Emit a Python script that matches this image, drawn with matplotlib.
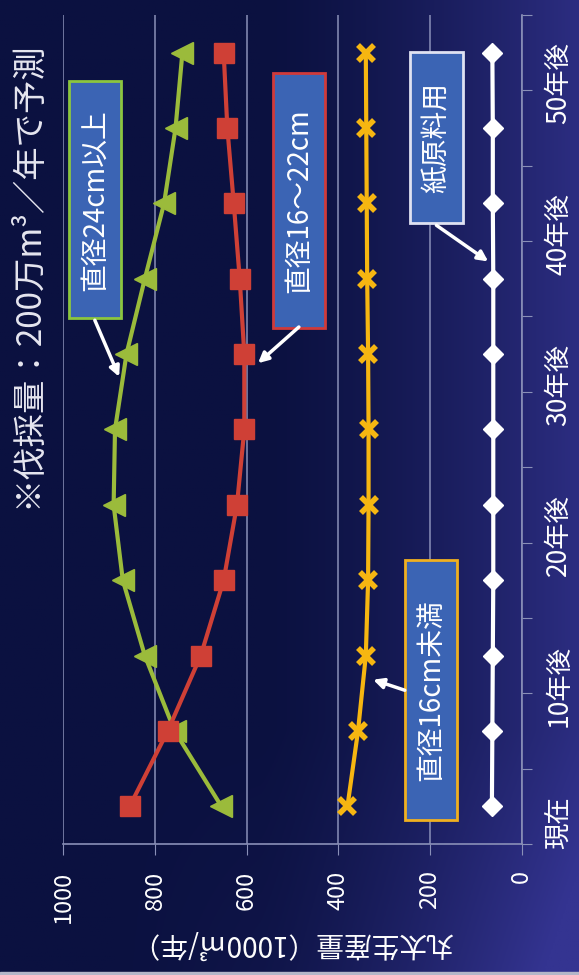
import numpy as np
import matplotlib
matplotlib.use('Agg')
import matplotlib.pyplot as plt
from matplotlib.patches import Rectangle

plt.rcParams['font.family'] = ['Noto Sans CJK JP', 'DejaVu Sans']

# 丸太生産量の予測（1000m3/年）、伐採量200万m3/年
periods = ['現在', '', '10年後', '', '20年後', '', '30年後', '', '40年後', '', '50年後']
over24 = [655, 757, 822, 870, 890, 887, 862, 822, 780, 755, 740]
d16_22 = [855, 772, 700, 650, 621, 605, 605, 615, 628, 642, 650]
under16 = [380, 357, 340, 335, 334, 334, 335, 337, 338, 339, 340]
pulp = [65, 64, 63, 62, 62, 62, 62, 62, 63, 63, 64]
value_ticks = [0, 200, 400, 600, 800, 1000]

W, H = 579, 975
fig = plt.figure(figsize=(W / 100, H / 100), dpi=100)

# slide background: dark navy, bluer towards the right / bottom right
bg = fig.add_axes([0, 0, 1, 1], zorder=-1)
xx, yy = np.meshgrid(np.linspace(0, 1, 300), np.linspace(0, 1, 500))
t = np.clip((xx - 0.45) / 0.55, 0, 1) ** 1.4 * 0.8
t += np.clip((yy - 0.75) / 0.25, 0, 1) * np.clip((xx - 0.2) / 0.8, 0, 1) * 0.35
t = np.clip(t, 0, 1)
dark = np.array([11, 17, 64]) / 255
light = np.array([52, 52, 145]) / 255
bg.imshow(dark + t[..., None] * (light - dark), aspect='auto',
          extent=[0, 1, 0, 1], origin='upper')
bg.axis('off')
fig.patches.append(Rectangle((0, 0), 1, 3 / H, transform=fig.transFigure,
                             color='#b4b6c8', zorder=0))

# chart is laid out sideways: values run right-to-left, periods bottom-to-top
ax = fig.add_axes([63.2 / W, 1 - 844 / H, (521.7 - 63.2) / W, (844 - 15) / H])
ax.set_facecolor('none')
cats = np.arange(len(periods))
gridc = '#8a90b8'

ax.plot(over24, cats, color='#9bbb3b', lw=3, marker='<', ms=16, zorder=3)
ax.plot(d16_22, cats, color='#cf4036', lw=3, marker='s', ms=15, zorder=3)
ax.plot(under16, cats, color='#f6b611', lw=3, marker='x', ms=11, mew=4, zorder=3)
ax.plot(pulp, cats, color='white', lw=3, marker='D', ms=10, zorder=3)

ax.set_xlim(1000, 0)
ax.set_ylim(-0.5, len(periods) - 0.5)
ax.set_xticks(value_ticks)
ax.xaxis.grid(True, color=gridc, lw=1.1)
ax.set_axisbelow(True)
for s in ['top', 'left']:
    ax.spines[s].set_visible(False)
for s in ['bottom', 'right']:
    ax.spines[s].set_color(gridc)
    ax.spines[s].set_linewidth(1.2)

ax.tick_params(axis='x', direction='out', length=8, color=gridc, labelcolor='white',
               labelrotation=90, labelsize=17, pad=11)
ax.yaxis.tick_right()
ax.set_yticks(np.arange(-0.5, len(periods), 1))
ax.set_yticklabels([])
ax.set_yticks(cats, minor=True)
ax.set_yticklabels(periods, minor=True)
ax.tick_params(axis='y', which='major', direction='out', length=7, color=gridc)
ax.tick_params(axis='y', which='minor', length=0, labelcolor='white',
               labelrotation=90, labelsize=19, pad=17)

fig.text(28 / W, 1 - 275 / H, '※伐採量：200万m³／年で予測', rotation=90,
         ha='center', va='center', fontsize=24, color='#e6e6f0')
fig.text(292 / W, 1 - 943 / H, '丸太生産量（1000㎥/年）', rotation=180,
         ha='center', va='center', fontsize=20, color='white')

# callout boxes: (label, edge colour, value range, period range, arrow start, arrow tip)
callouts = [
    ('直径24cm以上', '#8cc63f', (874, 988), (6.48, 9.62), (931, 6.45), (878, 5.70)),
    ('直径16～22cm', '#d03a3a', (429, 542), (6.35, 9.73), (486, 6.36), (575, 5.88)),
    ('紙原料用', '#dfe2f2', (129, 243), (7.74, 10.01), (186, 7.71), (73, 7.23)),
    ('直径16cm未満', '#f0b020', (141, 255), (-0.18, 3.27), (255, 1.54), (324, 1.68)),
]
for label, ec, (v0, v1), (c0, c1), start, tip in callouts:
    ax.add_patch(Rectangle((v0, c0), v1 - v0, c1 - c0, facecolor='#3b64b4',
                           edgecolor=ec, lw=2, zorder=5))
    ax.text((v0 + v1) / 2, (c0 + c1) / 2, label, rotation=90, ha='center',
            va='center', color='white', fontsize=20, zorder=6)
    ax.annotate('', xy=tip, xytext=start, zorder=6,
                arrowprops=dict(arrowstyle='-|>,head_length=0.6,head_width=0.3',
                                color='white', lw=2.5, shrinkA=0, shrinkB=0))

fig.savefig('out.png', dpi=100)
